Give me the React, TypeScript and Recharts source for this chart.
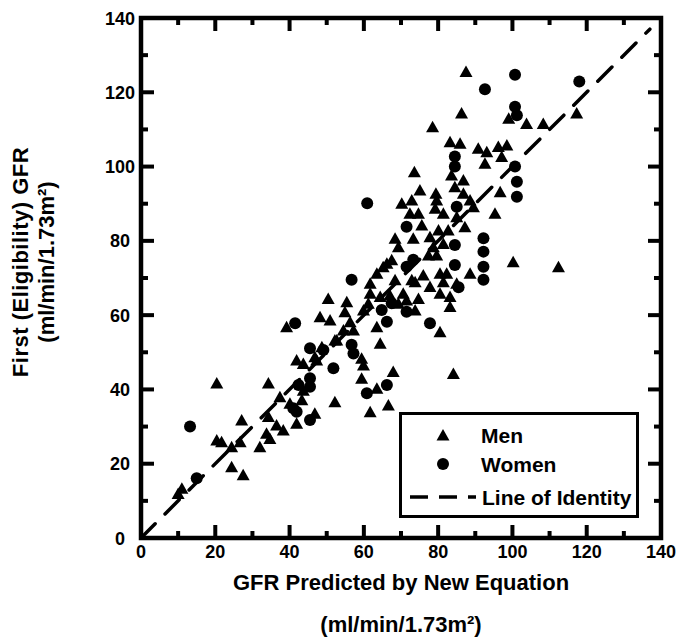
import React from 'react';
import { ScatterChart, Scatter, XAxis, YAxis, ReferenceLine, ReferenceArea, Legend, Label } from 'recharts';

// GFR predicted by new equation (x) vs first (eligibility) GFR (y)
const menPoints: [number, number][] = [
  [83.2, 106.7], [85.9, 106.3], [78.5, 110.7], [90.8, 104.9], [93.1, 104.0], [96.2, 105.4],
  [98.5, 105.8], [97.1, 102.7], [92.6, 100.9], [96.7, 93.2], [95.3, 87.4], [100.2, 74.4],
  [88.6, 71.3], [73.6, 98.6], [75.1, 93.7], [79.4, 92.8], [83.6, 97.7], [86.8, 96.4],
  [84.5, 94.6], [86.8, 92.8], [88.6, 91.0], [89.5, 89.2], [85.0, 86.5], [87.2, 83.8],
  [85.0, 68.6], [83.2, 65.0], [83.2, 62.3], [80.5, 65.9], [80.5, 71.3], [81.4, 69.0],
  [77.8, 67.7], [76.0, 70.8], [73.8, 69.0], [79.6, 91.0], [79.2, 88.8], [81.4, 87.4],
  [70.2, 90.1], [72.9, 91.0], [72.4, 87.4], [74.7, 87.4], [75.6, 84.3], [68.4, 80.7],
  [73.3, 80.7], [77.8, 81.1], [80.1, 82.9], [82.7, 82.9], [78.7, 78.4], [77.4, 76.2],
  [81.4, 79.3], [79.6, 76.2], [67.5, 74.9], [65.2, 73.0], [63.5, 71.3], [68.4, 69.5],
  [72.9, 69.5], [61.7, 68.6], [61.7, 65.9], [61.2, 63.2], [59.9, 61.4], [64.4, 65.0],
  [67.0, 65.4], [70.6, 65.9], [71.5, 64.1], [74.7, 64.5], [73.8, 61.4], [69.3, 63.2],
  [63.5, 56.9], [64.4, 52.4], [80.5, 55.5], [84.1, 44.3], [50.4, 64.5], [55.4, 63.6],
  [54.9, 60.9], [48.2, 59.6], [50.9, 58.7], [56.3, 58.2], [57.2, 56.0], [54.5, 56.0],
  [52.2, 53.3], [59.4, 48.4], [59.9, 46.6], [47.3, 47.9], [67.9, 44.8], [63.5, 40.3],
  [59.4, 43.0], [52.2, 36.7], [61.7, 34.0], [66.6, 35.8], [46.8, 33.6], [39.2, 56.9],
  [41.9, 47.9], [20.4, 41.7], [34.3, 41.7], [37.4, 38.0], [40.1, 36.3], [43.7, 39.8],
  [43.3, 37.2], [41.9, 30.9], [36.5, 30.4], [38.3, 29.1], [34.3, 32.7], [33.8, 28.2],
  [34.7, 26.8], [32.0, 24.6], [27.1, 31.8], [20.4, 26.4], [21.7, 25.9], [24.4, 24.6],
  [26.7, 25.9], [24.4, 19.2], [27.5, 17.0], [11.0, 13.4], [10.0, 12.0], [48.7, 51.5],
  [46.8, 48.8], [43.7, 47.0], [52.7, 53.3], [87.5, 125.6], [86.3, 114.4], [103.8, 111.6],
  [108.3, 111.6], [117.3, 114.4], [99.0, 113.0], [112.4, 73.0], [82.3, 71.3], [69.3, 78.4],
  [66.2, 74.0],
];

const womenPoints: [number, number][] = [
  [84.5, 102.7], [84.5, 100.0], [100.7, 100.0], [101.2, 95.9], [101.2, 91.9], [92.2, 80.7],
  [92.2, 77.1], [92.2, 73.0], [92.2, 69.5], [60.9, 90.1], [85.0, 89.2], [84.5, 78.9],
  [84.5, 73.5], [85.5, 67.5], [71.5, 83.8], [71.5, 73.0], [73.3, 74.9], [56.7, 69.5],
  [64.8, 61.4], [67.5, 63.2], [71.5, 60.9], [66.2, 58.2], [77.8, 57.8], [56.7, 52.0],
  [57.2, 49.7], [45.5, 51.1], [49.1, 50.6], [51.8, 45.7], [66.2, 41.2], [60.8, 39.0],
  [45.5, 43.0], [41.5, 57.8], [42.4, 41.2], [45.5, 40.7], [41.0, 34.9], [41.9, 34.0],
  [45.5, 31.8], [13.2, 30.0], [15.0, 16.1], [100.7, 124.7], [92.6, 120.8], [118.0, 122.9],
  [100.7, 116.1], [101.2, 113.8],
];

const axisTicks = [0, 10, 20, 30, 40, 50, 60, 70, 80, 90, 100, 110, 120, 130, 140];
const axisMin = 0;
const axisMax = 140;
const identityEnds = [0, 137];

const xTitle = 'GFR Predicted by New Equation';
const yTitle = 'First (Eligibility) GFR';
const unitTitle = '(ml/min/1.73m\u00B2)';

const men = menPoints.map(([x, y]) => ({ x, y }));
const women = womenPoints.map(([x, y]) => ({ x, y }));
const identitySegment = identityEnds.map((v) => ({ x: v, y: v }));

const FONT = "'Liberation Sans', Arial, Helvetica, sans-serif";
const INK = '#000';

// plot is 520 px for 140 units; inward tick lengths expressed in axis units
const PX_PER_UNIT = 520 / (axisMax - axisMin);
const MAJOR_LEN = 13 / PX_PER_UNIT;
const MINOR_LEN = 7 / PX_PER_UNIT;
const isMajor = (v: number) => v % 20 === 0;

const tickSegments = axisTicks
  .filter((v) => v > axisMin && v < axisMax)
  .flatMap((v) => {
    const len = isMajor(v) ? MAJOR_LEN : MINOR_LEN;
    return [
      [{ x: v, y: axisMin }, { x: v, y: axisMin + len }],
      [{ x: v, y: axisMax }, { x: v, y: axisMax - len }],
      [{ x: axisMin, y: v }, { x: axisMin + len, y: v }],
      [{ x: axisMax, y: v }, { x: axisMax - len, y: v }],
    ];
  });

const Triangle = (props: any) => {
  const { cx, cy } = props;
  if (cx == null || cy == null) return null;
  return <polygon points={`${cx},${cy - 6} ${cx - 6.5},${cy + 5.5} ${cx + 6.5},${cy + 5.5}`} fill={INK} />;
};

const Dot = (props: any) => {
  const { cx, cy } = props;
  if (cx == null || cy == null) return null;
  return <circle cx={cx} cy={cy} r={6} fill={INK} />;
};

const BottomTick = (props: any) => {
  const { x, y, payload } = props;
  if (!isMajor(payload.value)) return <g />;
  return (
    <text x={x} y={y + 20} textAnchor="middle" fontFamily={FONT} fontWeight="bold" fontSize={18} fill={INK}>
      {payload.value}
    </text>
  );
};

const LeftTick = (props: any) => {
  const { x, y, payload } = props;
  if (!isMajor(payload.value)) return <g />;
  return (
    <text x={x - 21} y={y + 6.5} textAnchor="middle" fontFamily={FONT} fontWeight="bold" fontSize={18} fill={INK}>
      {payload.value}
    </text>
  );
};

const XTitle = (props: any) => {
  const vb = props.viewBox || {};
  const cx = vb.x + vb.width / 2;
  return (
    <g>
      <text x={cx} y={vb.y + 52} textAnchor="middle" fontFamily={FONT} fontWeight="bold" fontSize={22} fill={INK}>
        {xTitle}
      </text>
      <text x={cx} y={vb.y + 94} textAnchor="middle" fontFamily={FONT} fontWeight="bold" fontSize={22} fill={INK}>
        {unitTitle}
      </text>
    </g>
  );
};

const YTitle = () => {
  const cy = 262;
  const x1 = 28;
  const x2 = 54;
  return (
    <g>
      <text x={x1} y={cy} transform={`rotate(-90 ${x1} ${cy})`} textAnchor="middle" fontFamily={FONT} fontWeight="bold" fontSize={22} letterSpacing={0.5} fill={INK}>
        {yTitle}
      </text>
      <text x={x2} y={cy} transform={`rotate(-90 ${x2} ${cy})`} textAnchor="middle" fontFamily={FONT} fontWeight="bold" fontSize={22} fill={INK}>
        {unitTitle}
      </text>
    </g>
  );
};

const LegendBox = () => (
  <div
    style={{
      boxSizing: 'border-box',
      width: 240,
      height: 106,
      border: '3px solid #000',
      background: '#fff',
      position: 'relative',
    }}
  >
    <svg width={234} height={100} style={{ position: 'absolute', left: 0, top: 0, display: 'block' }}>
      <polygon points="41,14 34.5,25.5 47.5,25.5" fill={INK} />
      <text x={79} y={27.5} fontFamily={FONT} fontWeight="bold" fontSize={21} fill={INK}>Men</text>
      <circle cx={41} cy={49} r={6} fill={INK} />
      <text x={79} y={56.5} fontFamily={FONT} fontWeight="bold" fontSize={21} fill={INK}>Women</text>
      <line x1={8} x2={74} y1={82} y2={82} stroke={INK} strokeWidth={3.5} strokeDasharray="18 11" />
      <text x={80} y={89.5} fontFamily={FONT} fontWeight="bold" fontSize={21} fill={INK}>Line of Identity</text>
    </svg>
  </div>
);

export default function App() {
  return (
    <div style={{ position: 'fixed', left: 0, top: 0, width: 677, height: 639, background: '#fff' }}>
      <ScatterChart width={677} height={639} margin={{ top: 18, right: 16, bottom: 0, left: 0 }}>
        <XAxis
          xAxisId="b"
          type="number"
          dataKey="x"
          orientation="bottom"
          domain={[axisMin, axisMax]}
          ticks={axisTicks}
          interval={0}
          allowDataOverflow
          height={101}
          tickSize={0}
          tickMargin={0}
          tickLine={false}
          tick={<BottomTick />}
          axisLine={false}
        >
          <Label content={<XTitle />} />
        </XAxis>
        <YAxis
          yAxisId="l"
          type="number"
          dataKey="y"
          orientation="left"
          domain={[axisMin, axisMax]}
          ticks={axisTicks}
          interval={0}
          allowDataOverflow
          width={141}
          tickSize={0}
          tickMargin={0}
          tickLine={false}
          tick={<LeftTick />}
          axisLine={false}
        >
          <Label content={<YTitle />} />
        </YAxis>
        <ReferenceArea
          xAxisId="b"
          yAxisId="l"
          x1={axisMin}
          x2={axisMax}
          y1={axisMin}
          y2={axisMax}
          fill="none"
          stroke={INK}
          strokeWidth={4.5}
          ifOverflow="visible"
        />
        {tickSegments.map((seg, i) => (
          <ReferenceLine
            key={`tick-${i}`}
            xAxisId="b"
            yAxisId="l"
            segment={seg}
            stroke={INK}
            strokeWidth={4}
            ifOverflow="visible"
          />
        ))}
        <Scatter name="Men" data={men} xAxisId="b" yAxisId="l" shape={Triangle} fill={INK} isAnimationActive={false} />
        <Scatter name="Women" data={women} xAxisId="b" yAxisId="l" shape={Dot} fill={INK} isAnimationActive={false} />
        <ReferenceLine
          xAxisId="b"
          yAxisId="l"
          segment={identitySegment}
          stroke={INK}
          strokeWidth={3.5}
          strokeDasharray="20 14"
          strokeLinecap="round"
          ifOverflow="visible"
        />
        <Legend
          layout="horizontal"
          verticalAlign="middle"
          align="center"
          wrapperStyle={{ position: 'absolute', left: 399, top: 412, width: 240, height: 106 }}
          content={() => <LegendBox />}
        />
      </ScatterChart>
    </div>
  );
}
